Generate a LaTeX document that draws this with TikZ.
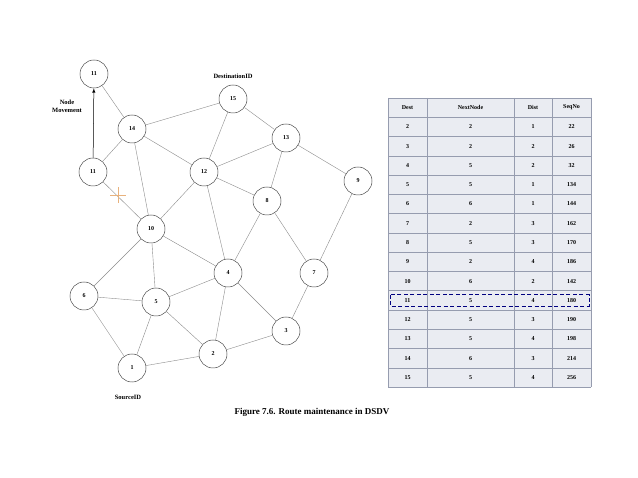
\documentclass[tikz,border=0pt]{standalone}
\usepackage{fontspec}
\setmainfont{Liberation Serif}
\definecolor{gridc}{RGB}{150,156,175}
\definecolor{cellc}{RGB}{234,236,242}
\begin{document}
\begin{tikzpicture}[x=1pt,y=-1pt,
  nd/.style={circle,draw=black!70,line width=0.5pt,minimum size=28pt,inner sep=0pt,font=\fontsize{6}{7}\selectfont\bfseries,fill=white},
  ed/.style={draw=black!45,line width=0.4pt},
  lbl/.style={font=\fontsize{6.5}{8}\selectfont\bfseries,align=center},
  cell/.style={font=\fontsize{6}{7}\selectfont\bfseries}]
\useasboundingbox (0,0) rectangle (638,478);
\fill[white] (0,0) rectangle (638,478);
\node[nd] (n11t) at (94,74) {11};
\node[nd] (n14) at (132,129) {14};
\node[nd] (n15) at (233,99) {15};
\node[nd] (n13) at (286,138) {13};
\node[nd] (n11) at (93,172) {11};
\node[nd] (n12) at (204,172) {12};
\node[nd] (n9) at (358,181) {9};
\node[nd] (n8) at (267,201) {8};
\node[nd] (n10) at (151,229) {10};
\node[nd] (n4) at (228,273) {4};
\node[nd] (n7) at (314,273) {7};
\node[nd] (n6) at (84,296) {6};
\node[nd] (n5) at (156,302) {5};
\node[nd] (n3) at (286,331) {3};
\node[nd] (n2) at (213,354) {2};
\node[nd] (n1) at (132,368) {1};
\foreach \a/\b in {n11t/n14,n11/n14,n11/n10,n14/n15,n14/n12,n14/n10,n15/n12,n15/n13,n13/n12,n13/n8,n13/n9,n12/n8,n12/n10,n12/n4,n8/n4,n8/n7,n9/n7,n10/n4,n10/n6,n10/n5,n4/n5,n4/n2,n4/n3,n7/n3,n6/n5,n6/n1,n5/n1,n5/n2,n2/n3,n1/n2}
  \draw[ed] (\a) -- (\b);
\draw[black,line width=0.5pt,-latex] (n11) -- (n11t);
\coordinate (cx) at (118,195);
\draw[brown!60!orange!60,line width=0.4pt] ([xshift=-8pt]cx) -- ([xshift=8pt]cx) ([yshift=-8pt]cx) -- ([yshift=8pt]cx);
\node[lbl] (mv) at (67,106) {Node\\Movement};
\node[lbl] (dst) at (233,76) {DestinationID};
\node[lbl] (src) at (128,397) {SourceID};
\node[font=\fontsize{9}{11}\selectfont\bfseries] (cap) at (312,412) {Figure 7.6. Route maintenance in DSDV};
\def\ta{98}\def\rh{19.27}
\fill[cellc] (388,98) rectangle (591,387);
\foreach \i in {0,...,15} \draw[gridc,line width=0.5pt] (388,{\ta+\i*\rh}) -- (591,{\ta+\i*\rh});
\foreach \x in {388,427,514,552,591} \draw[gridc,line width=0.5pt] (\x,98) -- (\x,387);
\foreach \d/\n/\s/\q [count=\r from 0] in {Dest/NextNode/Dist/SeqNo,2/2/1/22,3/2/2/26,4/5/2/32,5/5/1/134,6/6/1/144,7/2/3/162,8/5/3/170,9/2/4/186,10/6/2/142,11/5/4/180,12/5/3/190,13/5/4/198,14/6/3/214,15/5/4/256}{
  \node[cell] at (407.5,{\ta+(\r+0.5)*\rh}) {\d};
  \node[cell] at (470.5,{\ta+(\r+0.5)*\rh}) {\n};
  \node[cell] at (533,{\ta+(\r+0.5)*\rh}) {\s};
  \node[cell] at (571.5,{\ta+(\r+0.5)*\rh}) {\q};
}
\draw[blue!50!black,line width=0.9pt,dash pattern=on 4pt off 2.5pt] (390,{\ta+10*\rh+4}) rectangle (589,{\ta+11*\rh-4});
\end{tikzpicture}
\end{document}
